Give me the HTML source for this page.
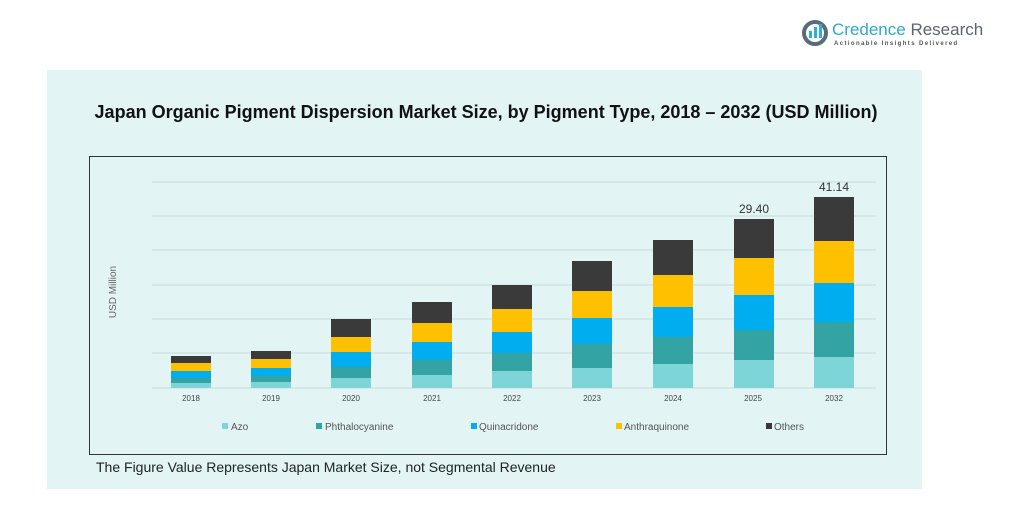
<!DOCTYPE html>
<html><head><style>
body{margin:0;width:1028px;height:532px;background:#fff;position:relative;overflow:hidden;font-family:"Liberation Sans",sans-serif;}
</style></head><body>
<svg width="1028" height="532" xmlns="http://www.w3.org/2000/svg" style="position:absolute;left:0;top:0">
<rect x="47" y="70" width="875" height="419" fill="#e3f4f5"/>
<circle cx="815" cy="33" r="11" fill="none" stroke="#5a6b7a" stroke-width="4"/>
<rect x="809" y="31" width="3" height="7" fill="#2bb0d6"/><rect x="814" y="27" width="3" height="11" fill="#2bb0d6"/><rect x="819" y="24" width="3" height="14" fill="#2bb0d6"/>
<text x="832" y="35" font-size="17" fill="#2fa9cf">Credence <tspan fill="#5a6570">Research</tspan></text>
<text x="834" y="45" font-size="6" fill="#555" letter-spacing="1.4" font-weight="bold">Actionable Insights Delivered</text>
<text x="486" y="118" text-anchor="middle" font-size="18" font-weight="bold" fill="#111">Japan Organic Pigment Dispersion Market Size, by Pigment Type, 2018 – 2032 (USD Million)</text>
<rect x="89.5" y="156.5" width="797" height="298" fill="none" stroke="#333" stroke-width="1"/>
<g stroke="#c9dadb" stroke-width="1">
<line x1="152" y1="182" x2="876" y2="182"/><line x1="152" y1="216" x2="876" y2="216"/><line x1="152" y1="250" x2="876" y2="250"/><line x1="152" y1="285" x2="876" y2="285"/><line x1="152" y1="319" x2="876" y2="319"/><line x1="152" y1="353" x2="876" y2="353"/><line x1="152" y1="388" x2="876" y2="388"/>
</g>
<text transform="translate(116,292) rotate(-90)" text-anchor="middle" font-size="10" fill="#666">USD Million</text>
<g id="bars"></g>
<text x="754" y="213" text-anchor="middle" font-size="12" fill="#333">29.40</text>
<text x="834" y="191" text-anchor="middle" font-size="12" fill="#333">41.14</text>
<g font-size="8" fill="#444" text-anchor="middle">
<text x="191" y="401">2018</text><text x="271" y="401">2019</text><text x="351" y="401">2020</text><text x="432" y="401">2021</text><text x="512" y="401">2022</text><text x="592" y="401">2023</text><text x="673" y="401">2024</text><text x="753" y="401">2025</text><text x="834" y="401">2032</text>
</g>
<g font-size="10" fill="#555">
<rect x="222" y="423" width="6" height="6" fill="#7dd5d8"/><text x="231" y="430">Azo</text>
<rect x="316" y="423" width="6" height="6" fill="#33a3a3"/><text x="325" y="430">Phthalocyanine</text>
<rect x="471" y="423" width="6" height="6" fill="#00aeef"/><text x="479" y="430">Quinacridone</text>
<rect x="616" y="423" width="6" height="6" fill="#ffc000"/><text x="624" y="430">Anthraquinone</text>
<rect x="766" y="423" width="6" height="6" fill="#3a3a3a"/><text x="774" y="430">Others</text>
</g>
<text x="96" y="472" font-size="14" fill="#222">The Figure Value Represents Japan Market Size, not Segmental Revenue</text>
</svg>
<script>
var d=[[171,356,363,371,378,383],[251,351,359,368,376,382],[331,319,337,352,367,378],[412,302,323,342,360,375],[492,285,309,332,353,371],[572,261,291,318,344,368],[653,240,275,307,337,364],[734,219,258,295,330,360],[814,197,241,283,322,357]];
var c=["#3a3a3a","#ffc000","#00aeef","#33a3a3","#7dd5d8"];
var g=document.getElementById("bars"),s="";
d.forEach(function(b){for(var i=0;i<5;i++){var y=b[i+1],y2=i<4?b[i+2]:388;s+='<rect x="'+b[0]+'" y="'+y+'" width="40" height="'+(y2-y)+'" fill="'+c[i]+'"/>';}});
g.innerHTML=s;
</script>
</body></html>
